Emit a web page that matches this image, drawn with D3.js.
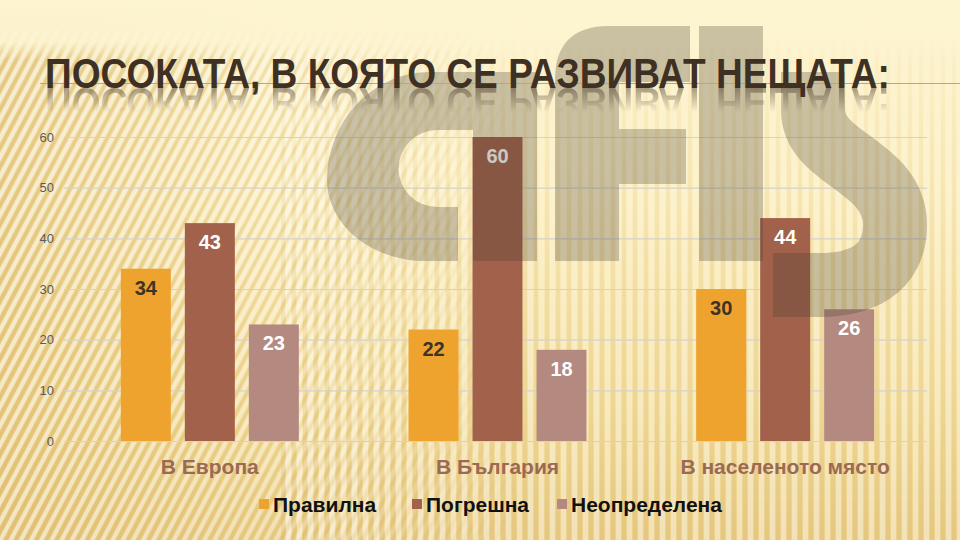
<!DOCTYPE html>
<html>
<head>
<meta charset="utf-8">
<script src="https://cdn.jsdelivr.net/npm/d3@7"></script>
<style>
  html, body { margin: 0; padding: 0; background: #fdf2c9; }
  svg { display: block; }
</style>
</head>
<body>
<svg id="chart" width="960" height="540" xmlns:xlink="http://www.w3.org/1999/xlink"></svg>
<script>
// ---- data ----
const title = "ПОСОКАТА, В КОЯТО СЕ РАЗВИВАТ НЕЩАТА:";
const categories = ["В Европа", "В България", "В населеното място"];
const seriesNames = ["Правилна", "Погрешна", "Неопределена"];
const pravilna = [34, 22, 30];
const pogreshna = [43, 60, 44];
const neopredelena = [23, 18, 26];
const yTicks = [0, 10, 20, 30, 40, 50, 60];

// ---- styles ----
const seriesColors = ["#eea32f", "#a2614b", "#b48a80"];
const labelColors = ["#3e3326", "#ffffff", "#ffffff"];
const seriesValues = [pravilna, pogreshna, neopredelena];

const svg = d3.select("#chart");
const W = 960, H = 540;
const defs = svg.append("defs");

// background gradient
const bg = defs.append("linearGradient").attr("id", "bgGrad").attr("x1", 0).attr("y1", 0).attr("x2", 0).attr("y2", 1);
bg.append("stop").attr("offset", "0").attr("stop-color", "#fdf4d0");
bg.append("stop").attr("offset", "0.35").attr("stop-color", "#fcefc2");
bg.append("stop").attr("offset", "0.75").attr("stop-color", "#f5e0a2");
bg.append("stop").attr("offset", "1").attr("stop-color", "#ebcf8a");

const side = defs.append("linearGradient").attr("id", "sideGrad").attr("x1", 0).attr("y1", 0).attr("x2", 1).attr("y2", 0);
side.append("stop").attr("offset", "0").attr("stop-color", "#e2c276").attr("stop-opacity", 0.6);
side.append("stop").attr("offset", "0.3").attr("stop-color", "#e2c276").attr("stop-opacity", 0.0);

// diagonal stripes pattern
const diag = defs.append("pattern").attr("id", "diag").attr("patternUnits", "userSpaceOnUse")
  .attr("width", 9).attr("height", 9).attr("patternTransform", "rotate(28)");
diag.append("rect").attr("width", 4).attr("height", 9).attr("fill", "#ffffff").attr("fill-opacity", 0.55);
diag.append("rect").attr("x", 5).attr("width", 3).attr("height", 9).attr("fill", "#d7b55e").attr("fill-opacity", 0.4);

// vertical stripes pattern
const vert = defs.append("pattern").attr("id", "vert").attr("patternUnits", "userSpaceOnUse")
  .attr("width", 11).attr("height", 11);
vert.append("rect").attr("width", 5).attr("height", 11).attr("fill", "#ffffff").attr("fill-opacity", 0.4);
vert.append("rect").attr("x", 6).attr("width", 4).attr("height", 11).attr("fill", "#d9b866").attr("fill-opacity", 0.3);

// masks
const m1g = defs.append("linearGradient").attr("id", "m1g").attr("x1", 0).attr("y1", 0).attr("x2", 1).attr("y2", 0);
m1g.append("stop").attr("offset", "0").attr("stop-color", "#fff").attr("stop-opacity", 1);
m1g.append("stop").attr("offset", "0.35").attr("stop-color", "#fff").attr("stop-opacity", 0.6);
m1g.append("stop").attr("offset", "0.55").attr("stop-color", "#fff").attr("stop-opacity", 0);
defs.append("mask").attr("id", "mask1").append("rect").attr("x", 0).attr("y", 30).attr("width", W).attr("height", H)
  .attr("fill", "url(#m1g)");

const m2g = defs.append("linearGradient").attr("id", "m2g").attr("x1", 0).attr("y1", 0).attr("x2", 0).attr("y2", 1);
m2g.append("stop").attr("offset", "0").attr("stop-color", "#fff").attr("stop-opacity", 0);
m2g.append("stop").attr("offset", "0.35").attr("stop-color", "#fff").attr("stop-opacity", 0.5);
m2g.append("stop").attr("offset", "1").attr("stop-color", "#fff").attr("stop-opacity", 1);
defs.append("mask").attr("id", "mask2").append("rect").attr("x", 280).attr("y", 0).attr("width", W).attr("height", H)
  .attr("fill", "url(#m2g)");

svg.append("rect").attr("width", W).attr("height", H).attr("fill", "url(#bgGrad)");
svg.append("rect").attr("width", W).attr("height", H).attr("fill", "url(#sideGrad)");
svg.append("rect").attr("width", W).attr("height", H).attr("fill", "url(#diag)").attr("mask", "url(#mask1)");
svg.append("rect").attr("width", W).attr("height", H).attr("fill", "url(#vert)").attr("mask", "url(#mask2)");
const topG = defs.append("linearGradient").attr("id", "topG").attr("x1", 0).attr("y1", 0).attr("x2", 0).attr("y2", 1);
topG.append("stop").attr("offset", "0").attr("stop-color", "#fdf4d0").attr("stop-opacity", 1);
topG.append("stop").attr("offset", "0.7").attr("stop-color", "#fdf4d0").attr("stop-opacity", 0.9);
topG.append("stop").attr("offset", "1").attr("stop-color", "#fdf4d0").attr("stop-opacity", 0);
svg.append("rect").attr("width", W).attr("height", 60).attr("fill", "url(#topG)");

// ---- scales ----
const y = d3.scaleLinear().domain([0, 60]).range([441, 137]);
const x0 = d3.scaleBand().domain(categories).range([66, 929]).paddingInner(0).paddingOuter(0);
const x1 = d3.scaleBand().domain(seriesNames).range([0, 178]).paddingInner(0.21875).paddingOuter(0);
const groupOffset = (x0.bandwidth() - 178) / 2;

// gridlines
const grid = svg.append("g").attr("transform", "translate(66,0)")
  .call(d3.axisLeft(y).tickValues(yTicks).tickSize(-863).tickFormat(""));
grid.select(".domain").remove();
grid.selectAll("line").attr("stroke", "#d6d2c8").attr("stroke-width", 1.2).attr("transform", "translate(-2,0)");

// y axis labels
const yAxis = svg.append("g").attr("transform", "translate(54,0)")
  .call(d3.axisLeft(y).tickValues(yTicks).tickSize(0).tickPadding(0));
yAxis.select(".domain").remove();
yAxis.selectAll("text").attr("fill", "#5b5b5b").attr("font-size", "13px")
  .attr("font-family", "'Liberation Sans', Arial, sans-serif");

// bars
const groups = svg.append("g").selectAll("g").data(categories).join("g")
  .attr("transform", d => `translate(${x0(d) + groupOffset},0)`);

groups.each(function(cat, ci) {
  const g = d3.select(this);
  seriesNames.forEach((s, si) => {
    const v = seriesValues[si][ci];
    g.append("rect")
      .attr("x", x1(s)).attr("width", x1.bandwidth())
      .attr("y", y(v)).attr("height", y(0) - y(v))
      .attr("fill", seriesColors[si]);
    g.append("text")
      .attr("x", x1(s) + x1.bandwidth() / 2)
      .attr("y", y(v) + 26)
      .attr("text-anchor", "middle")
      .attr("font-family", "'Liberation Sans', Arial, sans-serif")
      .attr("font-weight", "bold").attr("font-size", "20px")
      .attr("fill", labelColors[si])
      .text(v);
  });
});

// category labels
svg.append("g").selectAll("text").data(categories).join("text")
  .attr("x", d => x0(d) + x0.bandwidth() / 2)
  .attr("y", 474)
  .attr("text-anchor", "middle")
  .attr("font-family", "'Liberation Sans', Arial, sans-serif")
  .attr("font-weight", "bold").attr("font-size", "21px")
  .attr("fill", "#9b6a53")
  .text(d => d);

// legend
const legendX = [259, 412, 557];
const legend = svg.append("g").selectAll("g").data(seriesNames).join("g")
  .attr("transform", (d, i) => `translate(${legendX[i]},0)`);
legend.append("rect").attr("x", 0).attr("y", 499).attr("width", 10).attr("height", 10)
  .attr("fill", (d, i) => seriesColors[i]);
legend.append("text").attr("x", 14).attr("y", 511.5)
  .attr("font-family", "'Liberation Sans', Arial, sans-serif")
  .attr("font-weight", "bold").attr("font-size", "21px")
  .attr("fill", "#111")
  .text(d => d);

// ---- watermark logo ----
const logo = svg.append("g").attr("fill", "#433d2e").attr("fill-opacity", 0.28);
// a
logo.append("path").attr("fill-rule", "evenodd")
  .attr("d", "M430,72 L537,72 L537,261 L425,261 A98,81 0 0 1 327,180 A103,108 0 0 1 430,72 Z " +
             "M473,130 L473,261 L458,261 L458,207 L437,207 A38.5,38.5 0 0 1 437,130 Z");
// f
logo.append("path")
  .attr("d", "M555,261 L555,80 Q555,26 609,26 L690,26 L690,82 L619,82 L619,129 L686,129 L686,184 L619,184 L619,261 Z");
// i
logo.append("rect").attr("x", 699).attr("y", 26).attr("width", 64).attr("height", 235);
// s
logo.append("path").attr("fill", "none").attr("stroke", "#433d2e").attr("stroke-opacity", 0.28)
  .attr("stroke-width", 64)
  .attr("d", "M813,72 L813,110 C813,160 895,165 895,225 C895,270 860,285 820,285 L773,285");

// ---- title ----
const tg = svg.append("g");
tg.append("line").attr("x1", 40).attr("x2", 960).attr("y1", 83.5).attr("y2", 83.5)
  .attr("stroke", "#d9a24a").attr("stroke-width", 1.2);
const refl = defs.append("linearGradient").attr("id", "reflG").attr("gradientUnits", "userSpaceOnUse")
  .attr("x1", 0).attr("y1", 88).attr("x2", 0).attr("y2", 112);
refl.append("stop").attr("offset", "0").attr("stop-color", "#fff").attr("stop-opacity", 0.45);
refl.append("stop").attr("offset", "1").attr("stop-color", "#fff").attr("stop-opacity", 0);
defs.append("mask").attr("id", "reflMask").attr("maskUnits", "userSpaceOnUse")
  .attr("x", 0).attr("y", 88).attr("width", W).attr("height", 26)
  .append("rect").attr("x", 0).attr("y", 88).attr("width", W).attr("height", 26).attr("fill", "url(#reflG)");

const titleText = tg.append("text")
  .attr("id", "titleText")
  .attr("x", 0).attr("y", 0)
  .attr("font-family", "'Liberation Sans Narrow', 'Arial Narrow', 'Liberation Sans', sans-serif")
  .attr("font-weight", "bold").attr("font-size", "43px")
  .attr("fill", "#3f3024")
  .text(title);
// fit the title to the reference width: shrink font horizontally, stretch vertically
const natural = titleText.node().getComputedTextLength();
const targetW = 845, baseSize = 43;
const fs = baseSize * targetW / natural;
titleText.attr("font-size", fs + "px")
  .attr("transform", `translate(45,88) scale(1,${baseSize / fs})`);

// reflection (a mirrored copy of the same title element, faded)
tg.insert("g", "#titleText").attr("mask", "url(#reflMask)")
  .append("use").attr("href", "#titleText").attr("xlink:href", "#titleText")
  .attr("transform", "translate(0,176) scale(1,-1)");
</script>
</body>
</html>
